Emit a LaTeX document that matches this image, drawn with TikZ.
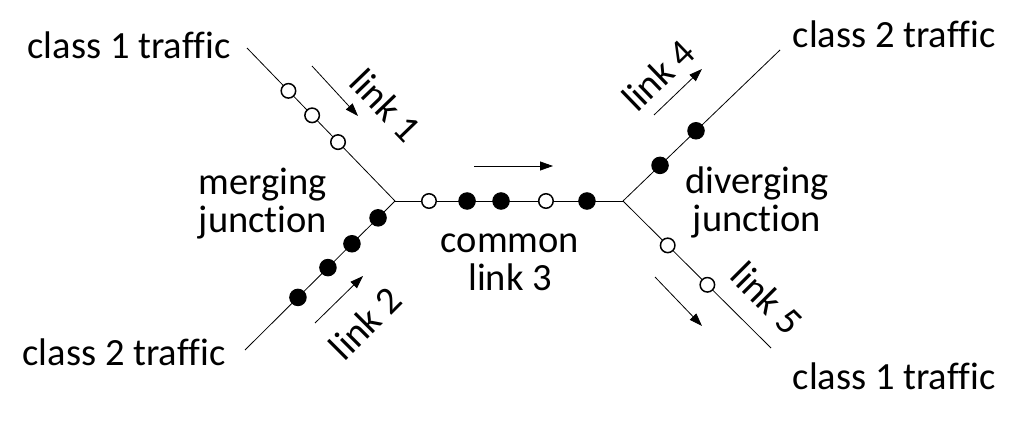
\documentclass[tikz,border=0pt]{standalone}
\usepackage{fontspec}
\setmainfont{Carlito}[Ligatures=NoCommon]
\usetikzlibrary{arrows.meta}

\begin{document}
\begin{tikzpicture}[x=1pt, y=-1pt,
    every node/.style={font=\fontsize{38.5}{38}\selectfont, inner sep=0pt},
    link/.style={line width=0.8pt},
    flow/.style={line width=0.8pt, -{Triangle[length=13pt, width=9pt]}},
    pktopen/.style={circle, draw, line width=1.5pt, fill=white, minimum size=14.5pt},
    pktfull/.style={circle, draw, line width=1pt, fill=black, minimum size=16.5pt},
    lbl/.style={anchor=base, align=center}]
    % Frame of the picture
    \useasboundingbox (0,0) rectangle (1016,422);

    % Ends and junctions
    \coordinate (in1) at (247,48);
    \coordinate (in2) at (245,350);
    \coordinate (mj) at (395,201);
    \coordinate (dj) at (623,201);
    \coordinate (out2) at (780,50);
    \coordinate (out1) at (771,348);

    % Links
    \draw[link] (in1) -- (mj);
    \draw[link] (in2) -- (mj);
    \draw[link] (mj) -- (dj);
    \draw[link] (dj) -- (out2);
    \draw[link] (dj) -- (out1);

    % Packets on the links
    \foreach \p in {0.28, 0.44, 0.615}
        \path (in1) -- (mj) node[pktopen, pos=\p] {};
    \foreach \p in {0.353, 0.553, 0.713, 0.887}
        \path (in2) -- (mj) node[pktfull, pos=\p] {};
    \path (mj) -- (dj) node[pktopen, pos=0.149] {} node[pktfull, pos=0.316] {}
        node[pktfull, pos=0.465] {} node[pktopen, pos=0.662] {} node[pktfull, pos=0.842] {};
    \foreach \p in {0.236, 0.465}
        \path (dj) -- (out2) node[pktfull, pos=\p] {};
    \foreach \p in {0.302, 0.57}
        \path (dj) -- (out1) node[pktopen, pos=\p] {};

    % Direction of flow
    \coordinate (f1a) at (312,66);  \coordinate (f1b) at (358,116);
    \coordinate (f2a) at (315,323); \coordinate (f2b) at (363,276);
    \coordinate (f3a) at (474,166); \coordinate (f3b) at (553,166);
    \coordinate (f4a) at (654,115); \coordinate (f4b) at (702,69);
    \coordinate (f5a) at (655,277); \coordinate (f5b) at (702,326);
    \draw[flow] (f1a) -- (f1b);
    \draw[flow] (f2a) -- (f2b);
    \draw[flow] (f3a) -- (f3b);
    \draw[flow] (f4a) -- (f4b);
    \draw[flow] (f5a) -- (f5b);

    % Traffic labels
    \node[lbl] (cls1in) at (129,59) {class 1 traffic};
    \node[lbl] (cls2in) at (124,365) {class 2 traffic};
    \node[lbl] (cls2out) at (894,48) {class 2 traffic};
    \node[lbl] (cls1out) at (894,389) {class 1 traffic};

    % Junction labels (base is the last line)
    \node[lbl] (merge) at (263,232) {merging\\junction};
    \node[lbl] (common) at (510,290) {common\\link 3};
    \node[lbl] (diverge) at (757,231) {diverging\\junction};

    % Link labels
    \node[rotate=-46] (lk1) at (386,105) {link 1};
    \node[rotate=45] (lk2) at (365,323) {link 2};
    \node[rotate=44] (lk4) at (658,75) {link 4};
    \node[rotate=-45] (lk5) at (767,298) {link 5};
\end{tikzpicture}
\end{document}
